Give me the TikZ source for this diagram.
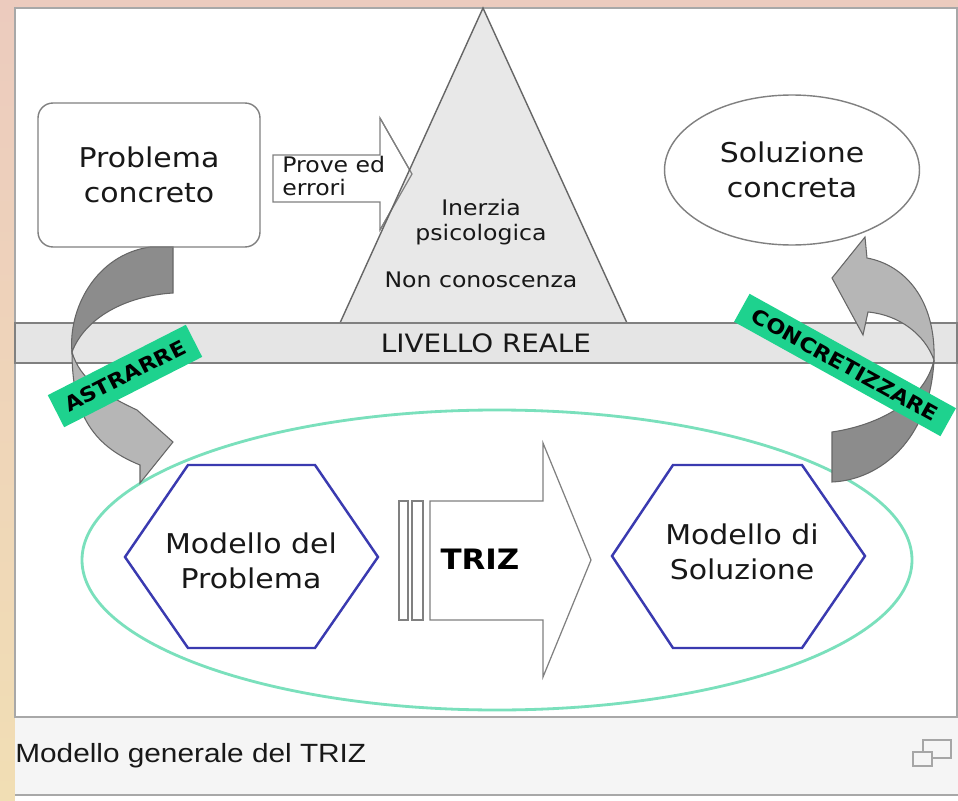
\documentclass[tikz,border=0pt]{standalone}
\usepackage{fontspec}
\setmainfont[FakeStretch=1.1]{DejaVu Sans}
\newfontfamily\fontdidascalia[FakeStretch=1.13]{Liberation Sans}
\usetikzlibrary{positioning,shapes.geometric}

\definecolor{cornicerosa}{RGB}{236,203,190}
\definecolor{cornicesabbia}{RGB}{241,222,180}
\definecolor{bordogrigio}{RGB}{168,168,168}
\definecolor{inchiostro}{RGB}{24,24,24}
\definecolor{fasciagrigia}{RGB}{229,229,229}
\definecolor{piramide}{RGB}{232,232,232}
\definecolor{bluesagono}{RGB}{58,58,176}
\definecolor{verdezona}{RGB}{122,224,188}
\definecolor{verdetag}{RGB}{30,210,142}
\definecolor{curvascura}{RGB}{140,140,140}
\definecolor{curvachiara}{RGB}{182,182,182}

\tikzset{
    %Define standard styles
    riquadro/.style={
      rectangle,
      rounded corners=8.5pt,
      draw=gray, line width=0.8pt,
      minimum width=4.44cm,
      minimum height=2.88cm,
      text=inchiostro,
      align=center,
      font=\fontsize{15.5}{20}\selectfont},
    ovale/.style={
      ellipse,
      draw=gray, line width=0.8pt,
      minimum width=5.1cm,
      minimum height=3cm,
      text=inchiostro,
      align=center,
      font=\fontsize{15.5}{20}\selectfont},
    scritta/.style={
      text=inchiostro,
      align=center,
      font=\fontsize{15.5}{20}\selectfont},
    piccola/.style={
      text=inchiostro,
      align=center,
      font=\fontsize{12.2}{14}\selectfont},
    blocco/.style={
      draw=gray, line width=0.7pt, fill=white},
    esagono/.style={
      draw=bluesagono, line width=1.4pt},
    curva/.style={
      draw=black!60, line width=0.6pt},
    etichetta/.style={
      rectangle,
      fill=verdetag,
      text=black,
      inner sep=1pt,
      font=\bfseries\fontsize{11.6}{12}\selectfont},
}

\begin{document}
\begin{tikzpicture}[x=0.02cm, y=-0.02cm]
    \useasboundingbox (0,0) rectangle (958,801);
    % cornice e pannello
    \fill[cornicerosa] (0,0) rectangle (958,801);
    \shade[top color=cornicerosa, bottom color=cornicesabbia] (0,0) rectangle (15,801);
    \fill[white!96!black] (15,717) rectangle (958,795);
    \fill[white] (15,795) rectangle (958,801);
    \draw[bordogrigio, line width=0.6pt] (15,795) -- (958,795);
    \draw[bordogrigio, fill=white, line width=0.9pt] (15,8) rectangle (957,717);

    % prove ed errori e piramide
    \draw[blocco] (273,155) -- (380,155) -- (380,118) -- (412,174)
        -- (380,230) -- (380,202) -- (273,202) -- cycle;
    \fill[piramide] (483,8) -- (340,323) -- (627,323) -- cycle;
    \draw[blocco, fill=none] (380,118) -- (412,174) -- (380,230);
    \draw[gray!80!black, line width=0.8pt] (340,323) -- (483,8) -- (627,323);

    \node (livello) [rectangle, draw=gray, fill=fasciagrigia, line width=0.8pt,
          minimum width=18.84cm, minimum height=0.8cm, inner sep=0pt,
          text=inchiostro, font=\fontsize{14.4}{16}\selectfont] at (486,343)
          {LIVELLO REALE};

    % livello astratto
    \draw[verdezona, line width=1.6pt] (497,560) ellipse [x radius=415, y radius=150];
    \draw[esagono] (125,557) -- (188,465) -- (315,465) -- (378,557)
        -- (315,648) -- (188,648) -- cycle;
    \draw[esagono] (612,556) -- (673,465) -- (802,465) -- (865,556)
        -- (802,648) -- (673,648) -- cycle;
    \draw[blocco] (399,501) rectangle (408,620);
    \draw[blocco] (412,501) rectangle (423,620);
    \draw[blocco] (430,501) -- (543,501) -- (543,443) -- (591,560)
        -- (543,677) -- (543,620) -- (430,620) -- cycle;

    % frecce curve
    \draw[curva, fill=curvascura] (150,247) -- (173,247) -- (173,293)
        .. controls (125,296) and (85,318) .. (72,352)
        .. controls (68,310) and (95,255) .. (150,247) -- cycle;
    \draw[curva, fill=curvachiara] (72,352)
        .. controls (72,410) and (90,445) .. (140,465) -- (140,483) -- (173,442) -- (137,410)
        .. controls (105,395) and (80,380) .. (72,352) -- cycle;
    \draw[curva, fill=curvascura] (832,432) -- (832,482)
        .. controls (880,480) and (930,440) .. (934,360)
        .. controls (925,400) and (880,425) .. (832,432) -- cycle;
    \draw[curva, fill=curvachiara] (934,360)
        .. controls (936,300) and (905,265) .. (867,258) -- (865,237) -- (832,278)
        -- (863,335) -- (868,312)
        .. controls (900,315) and (925,335) .. (934,360) -- cycle;

    \node (astrarre) [etichetta, rotate=27, minimum width=3.1cm, minimum height=0.72cm]
          at (125,376) {ASTRARRE};
    \node (concretizzare) [etichetta, rotate=-29, minimum width=4.72cm, minimum height=0.64cm]
          at (845,365) {CONCRETIZZARE};

    % testi
    \node (probconc) [riquadro] at (149,175)
          {Problema\\concreto};
    \node (solconc) [ovale] at (792,170)
          {Soluzione\\concreta};
    \node (prove) [piccola, align=left, anchor=west, inner sep=0pt,
          font=\fontsize{12.2}{13}\selectfont] at (282,176)
          {Prove ed\\errori};
    \node (inerzia) [piccola] at (481,222)
          {Inerzia\\psicologica};
    \node (nonconosc) [piccola] [below=0.3cm of inerzia]
          {Non conoscenza};
    \node (modprob) [scritta] at (251,561)
          {Modello del\\Problema};
    \node (modsol) [scritta] at (742,552)
          {Modello di\\Soluzione};
    \node (triz) [scritta, text=black, font=\bfseries\fontsize{16}{18}\selectfont] at (480,559)
          {TRIZ};
    \node (didascalia) [anchor=west, inner sep=0pt, text=inchiostro,
          font=\fontdidascalia\fontsize{15}{18}\selectfont] at (15,756)
          {Modello generale del TRIZ};

    % icona
    \draw[gray!70, line width=1.1pt] (923,740) rectangle (951,758);
    \draw[gray!70, line width=1.1pt, fill=white!96!black] (913,752) rectangle (932,766);
\end{tikzpicture}
\end{document}
